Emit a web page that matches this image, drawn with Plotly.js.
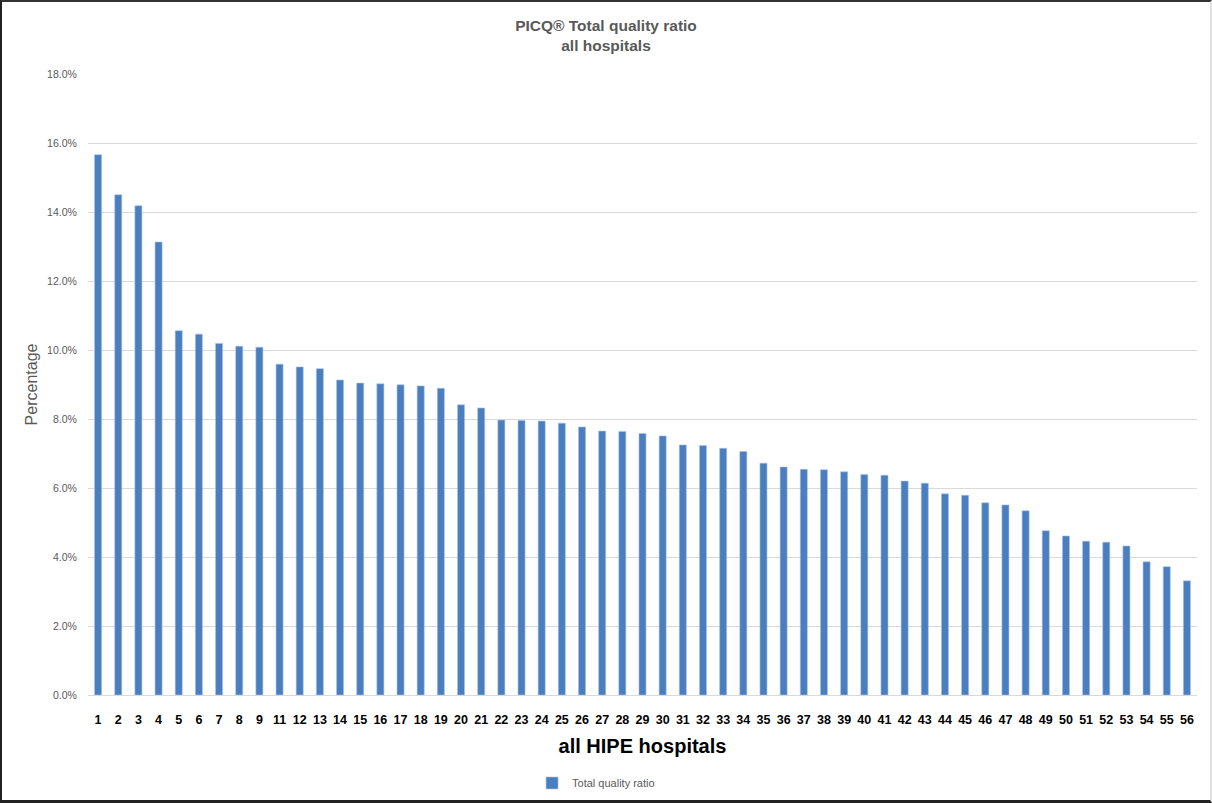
<!DOCTYPE html>
<html>
<head>
<meta charset="utf-8">
<script src="https://cdn.plot.ly/plotly-3.0.1.min.js"></script>
<style>
  html, body { margin: 0; padding: 0; background: #fff; }
  #chart { position: absolute; left: 0; top: 0; width: 1212px; height: 803px; }
  #frame { position: absolute; left: 0; top: 0; width: 1212px; height: 803px; box-sizing: border-box;
           border-top: 2px solid #333; border-left: 2px solid #222; border-bottom: 3px solid #222; border-right: 2px solid #e0e0e0;
           pointer-events: none; }
</style>
</head>
<body>
<div id="chart"></div>
<div id="frame"></div>
<script>
const hospitals = ["1","2","3","4","5","6","7","8","9","11","12","13","14","15","16","17","18","19","20","21",
  "22","23","24","25","26","27","28","29","30","31","32","33","34","35","36","37","38","39","40","41",
  "42","43","44","45","46","47","48","49","50","51","52","53","54","55","56"];
const qualityRatio = [15.66, 14.50, 14.18, 13.13, 10.56, 10.46, 10.19, 10.11, 10.08, 9.59,
  9.51, 9.46, 9.13, 9.04, 9.02, 8.99, 8.96, 8.89, 8.41, 8.32,
  7.97, 7.96, 7.94, 7.88, 7.77, 7.65, 7.64, 7.58, 7.51, 7.25,
  7.23, 7.15, 7.06, 6.72, 6.61, 6.54, 6.53, 6.47, 6.39, 6.37,
  6.20, 6.14, 5.83, 5.79, 5.57, 5.51, 5.34, 4.76, 4.61, 4.46,
  4.43, 4.32, 3.86, 3.72, 3.31].map(v => v / 100);
const yTicks = [0, 0.02, 0.04, 0.06, 0.08, 0.10, 0.12, 0.14, 0.16, 0.18];

const FONT = "Liberation Sans, Arial, sans-serif";

const trace = {
  type: 'bar',
  x: hospitals,
  y: qualityRatio,
  name: 'Total quality ratio',
  marker: { color: '#4a7ebf', line: { color: '#a9c3e6', width: 0.6 } },
  hoverinfo: 'x+y'
};

const layout = {
  width: 1212, height: 803,
  paper_bgcolor: '#fff', plot_bgcolor: '#fff',
  margin: { l: 88, r: 15, t: 74, b: 108, autoexpand: false },
  bargap: 0.65,
  title: {
    text: '<b>PICQ® Total quality ratio<br>all hospitals</b>',
    x: 0.5, xanchor: 'center', y: 0.962, yanchor: 'top',
    font: { family: FONT, size: 15.5, color: '#595959' }
  },
  xaxis: {
    type: 'category',
    range: [-0.5, 54.5],
    showgrid: false,
    showline: true, linecolor: '#d9d9d9', linewidth: 1,
    ticks: 'outside', ticklen: 13, tickcolor: 'rgba(0,0,0,0)',
    tickfont: { family: FONT, size: 12.5, color: '#000' },
    tickprefix: '<b>', ticksuffix: '</b>',
    title: { text: '<b>all HIPE hospitals</b>', font: { family: FONT, size: 20, color: '#000' }, standoff: 12 },
    fixedrange: true
  },
  yaxis: {
    range: [0, 0.18],
    tickvals: yTicks,
    tickformat: '.1%',
    showgrid: true, gridcolor: '#d9d9d9', gridwidth: 1,
    zeroline: false,
    showline: false,
    ticks: 'outside', ticklen: 8, tickcolor: 'rgba(0,0,0,0)',
    tickfont: { family: FONT, size: 10.5, color: '#595959' },
    title: { text: 'Percentage', font: { family: FONT, size: 16, color: '#595959' }, standoff: 5 },
    fixedrange: true
  },
  showlegend: true,
  legend: {
    orientation: 'h', x: 0.4004, xanchor: 'left', y: -0.1417, yanchor: 'middle',
    font: { family: FONT, size: 11, color: '#595959' },
    itemwidth: 30
  }
};

Plotly.newPlot('chart', [trace], layout, { displayModeBar: false, staticPlot: true });
</script>
</body>
</html>
